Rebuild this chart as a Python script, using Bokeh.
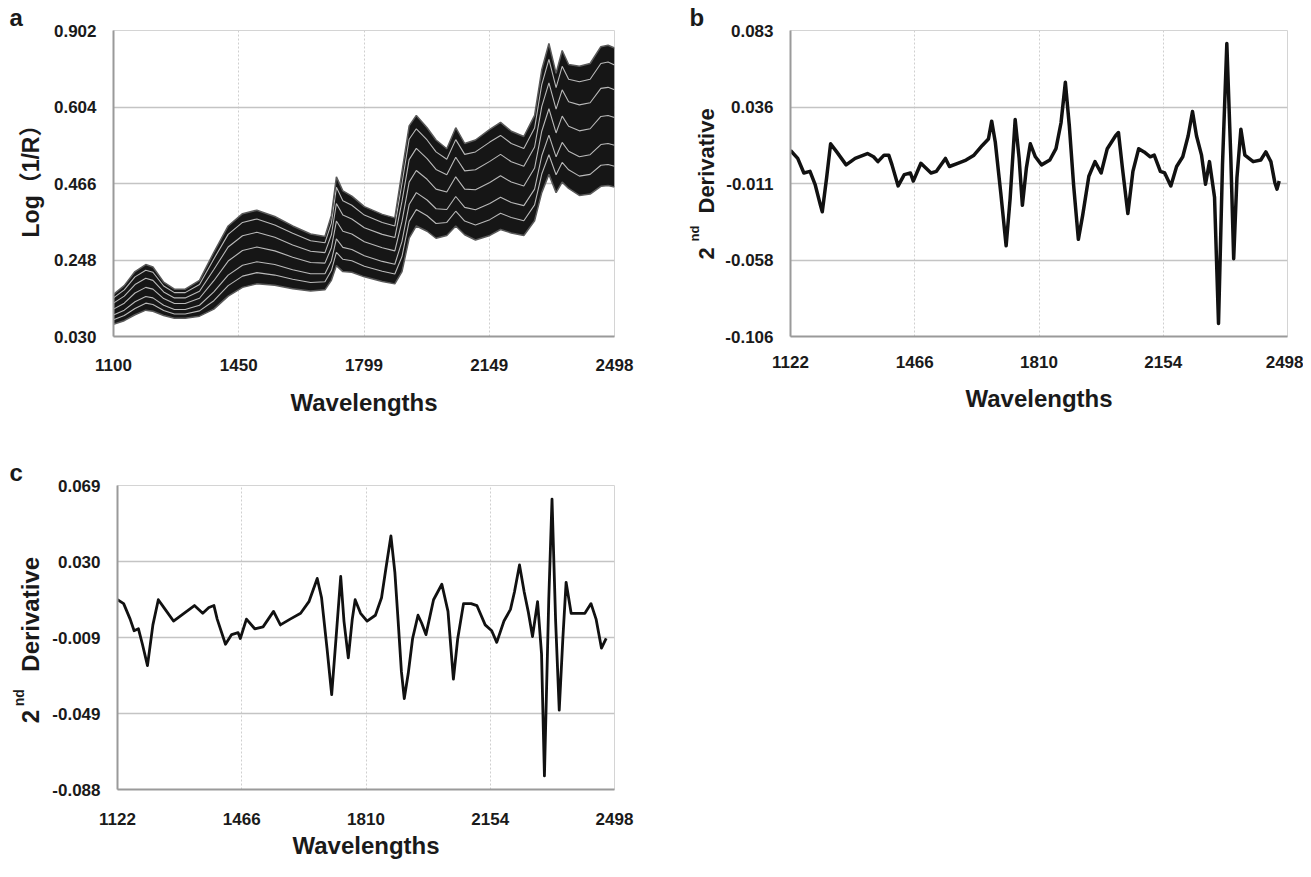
from bokeh.plotting import figure
from bokeh.layouts import column, row
from bokeh.models import Range1d, FixedTicker, Label
from bokeh.embed import file_html
from bokeh.resources import INLINE

# ---------------- data ----------------
# panel a : raw spectra envelope and a few visible inner spectra
a_wl = [1100, 1130, 1160, 1190, 1210, 1240, 1270, 1300, 1340, 1380, 1420, 1460, 1500, 1550,
        1600, 1650, 1690, 1708, 1722, 1740, 1765, 1800, 1850, 1885, 1905, 1925, 1945, 1975,
        2000, 2030, 2055, 2080, 2110, 2150, 2180, 2210, 2245, 2275, 2295, 2315, 2335, 2352,
        2370, 2400, 2430, 2460, 2480, 2498]
a_upper = [0.150, 0.175, 0.215, 0.235, 0.228, 0.185, 0.165, 0.165, 0.190, 0.270, 0.345, 0.380,
           0.390, 0.372, 0.345, 0.322, 0.315, 0.375, 0.485, 0.445, 0.430, 0.400, 0.378, 0.368,
           0.500, 0.630, 0.660, 0.625, 0.590, 0.565, 0.625, 0.580, 0.590, 0.620, 0.640, 0.615,
           0.600, 0.660, 0.790, 0.865, 0.780, 0.845, 0.805, 0.800, 0.808, 0.856, 0.860, 0.852]
a_lower = [0.065, 0.075, 0.092, 0.105, 0.102, 0.090, 0.082, 0.082, 0.088, 0.108, 0.145, 0.170,
           0.180, 0.176, 0.166, 0.160, 0.163, 0.190, 0.232, 0.215, 0.213, 0.200, 0.187, 0.180,
           0.215, 0.310, 0.345, 0.330, 0.310, 0.318, 0.345, 0.320, 0.305, 0.318, 0.335, 0.325,
           0.318, 0.360, 0.440, 0.492, 0.440, 0.470, 0.452, 0.432, 0.436, 0.458, 0.460, 0.456]
a_inner0 = [0.078, 0.090, 0.110, 0.125, 0.121, 0.104, 0.094, 0.094, 0.103, 0.132, 0.175, 0.202,
            0.212, 0.205, 0.193, 0.184, 0.186, 0.218, 0.270, 0.250, 0.246, 0.230, 0.216, 0.208,
            0.258, 0.358, 0.392, 0.374, 0.352, 0.355, 0.387, 0.359, 0.348, 0.363, 0.381, 0.369,
            0.360, 0.405, 0.493, 0.548, 0.491, 0.526, 0.505, 0.487, 0.492, 0.518, 0.520, 0.515]
a_inner1 = [0.091, 0.105, 0.129, 0.144, 0.140, 0.119, 0.107, 0.107, 0.119, 0.157, 0.205, 0.233,
            0.243, 0.235, 0.220, 0.209, 0.209, 0.246, 0.308, 0.284, 0.278, 0.260, 0.244, 0.236,
            0.301, 0.406, 0.440, 0.419, 0.394, 0.392, 0.429, 0.398, 0.391, 0.409, 0.427, 0.412,
            0.403, 0.450, 0.545, 0.604, 0.542, 0.583, 0.558, 0.542, 0.548, 0.577, 0.580, 0.575]
a_inner2 = [0.108, 0.125, 0.154, 0.170, 0.165, 0.138, 0.124, 0.124, 0.139, 0.189, 0.245, 0.275,
            0.285, 0.274, 0.256, 0.241, 0.239, 0.283, 0.359, 0.330, 0.322, 0.300, 0.283, 0.274,
            0.358, 0.470, 0.503, 0.478, 0.450, 0.442, 0.485, 0.450, 0.448, 0.469, 0.488, 0.470,
            0.459, 0.510, 0.615, 0.679, 0.610, 0.658, 0.629, 0.616, 0.622, 0.657, 0.660, 0.654]
a_inner3 = [0.125, 0.145, 0.178, 0.196, 0.190, 0.157, 0.140, 0.140, 0.159, 0.221, 0.285, 0.317,
            0.327, 0.313, 0.291, 0.273, 0.269, 0.320, 0.409, 0.376, 0.365, 0.340, 0.321, 0.312,
            0.415, 0.534, 0.566, 0.537, 0.506, 0.491, 0.541, 0.502, 0.505, 0.529, 0.549, 0.528,
            0.515, 0.570, 0.685, 0.753, 0.678, 0.733, 0.699, 0.690, 0.696, 0.737, 0.740, 0.733]
a_inner4 = [0.140, 0.163, 0.200, 0.219, 0.213, 0.174, 0.155, 0.155, 0.178, 0.251, 0.321, 0.355,
            0.365, 0.348, 0.324, 0.303, 0.297, 0.353, 0.455, 0.417, 0.404, 0.376, 0.355, 0.345,
            0.466, 0.592, 0.622, 0.590, 0.556, 0.535, 0.591, 0.549, 0.556, 0.584, 0.603, 0.580,
            0.566, 0.624, 0.748, 0.820, 0.739, 0.800, 0.763, 0.756, 0.763, 0.808, 0.812, 0.804]
a_xticks = [1100, 1449.5, 1799, 2148.5, 2498]
a_xlabels = ["1100", "1450", "1799", "2149", "2498"]
a_yticks = [0.030, 0.248, 0.466, 0.684, 0.902]
a_ylabels = ["0.030", "0.248", "0.466", "0.604", "0.902"]

# panel b : 2nd derivative
b_wl = [1122, 1142, 1159, 1176, 1190, 1205, 1210, 1222, 1233, 1250, 1276, 1301, 1335, 1352,
        1364, 1381, 1394, 1403, 1420, 1437, 1454, 1462, 1483, 1511, 1526, 1551, 1562, 1585,
        1608, 1630, 1653, 1670, 1679, 1689, 1704, 1719, 1730, 1744, 1755, 1764, 1775, 1786,
        1800, 1817, 1840, 1857, 1871, 1883, 1894, 1906, 1919, 1931, 1948, 1965, 1982, 1999,
        2022, 2030, 2041, 2056, 2070, 2086, 2101, 2118, 2129, 2146, 2158, 2175, 2191, 2208,
        2223, 2235, 2246, 2260, 2271, 2282, 2296, 2307, 2318, 2330, 2341, 2349, 2358, 2369,
        2380, 2403, 2424, 2438, 2452, 2463, 2469, 2475]
b_val = [0.009, 0.004, -0.005, -0.004, -0.012, -0.025, -0.029, -0.008, 0.013, 0.008, 0.000,
         0.004, 0.007, 0.005, 0.002, 0.006, 0.006, 0.000, -0.013, -0.006, -0.005, -0.010,
         0.001, -0.005, -0.004, 0.004, -0.001, 0.001, 0.003, 0.006, 0.012, 0.016, 0.027,
         0.014, -0.017, -0.050, -0.021, 0.028, 0.004, -0.025, -0.002, 0.013, 0.005, 0.000,
         0.003, 0.010, 0.026, 0.051, 0.024, -0.013, -0.046, -0.031, -0.007, 0.002, -0.005,
         0.010, 0.018, 0.020, -0.002, -0.030, -0.004, 0.010, 0.008, 0.005, 0.006, -0.004,
         -0.005, -0.013, -0.001, 0.005, 0.018, 0.033, 0.018, 0.006, -0.012, 0.002, -0.020,
         -0.098, 0.000, 0.075, 0.005, -0.058, -0.008, 0.022, 0.006, 0.002, 0.003, 0.008,
         0.002, -0.011, -0.015, -0.010]
b_xticks = [1122, 1466, 1810, 2154, 2498]
b_xlabels = ["1122", "1466", "1810", "2154", "2498"]
b_yticks = [-0.106, -0.05875, -0.0115, 0.03575, 0.083]
b_ylabels = ["-0.106", "-0.058", "-0.011", "0.036", "0.083"]

# panel c : 2nd derivative
c_wl = [1122, 1139, 1157, 1168, 1180, 1191, 1205, 1220, 1235, 1254, 1277, 1306, 1335, 1358,
        1375, 1389, 1398, 1421, 1438, 1456, 1462, 1479, 1502, 1525, 1554, 1573, 1600, 1629,
        1652, 1675, 1687, 1702, 1715, 1727, 1740, 1749, 1761, 1772, 1780, 1795, 1813, 1836,
        1853, 1865, 1879, 1890, 1899, 1908, 1916, 1927, 1939, 1954, 1964, 1976, 1997, 2020,
        2037, 2052, 2064, 2080, 2101, 2117, 2140, 2158, 2172, 2192, 2210, 2221, 2235, 2248,
        2259, 2271, 2285, 2296, 2304, 2316, 2325, 2335, 2345, 2355, 2364, 2378, 2399, 2416,
        2433, 2447, 2462, 2475]
c_val = [0.010, 0.008, 0.000, -0.006, -0.005, -0.013, -0.024, -0.003, 0.010, 0.005, -0.001,
         0.003, 0.007, 0.003, 0.006, 0.007, 0.000, -0.013, -0.008, -0.007, -0.010, 0.000,
         -0.005, -0.004, 0.004, -0.003, 0.000, 0.003, 0.009, 0.021, 0.011, -0.015, -0.039,
         -0.010, 0.022, -0.001, -0.020, 0.000, 0.010, 0.003, -0.001, 0.002, 0.011, 0.026,
         0.043, 0.024, -0.001, -0.027, -0.041, -0.028, -0.010, 0.002, -0.002, -0.008, 0.010,
         0.018, 0.004, -0.031, -0.010, 0.008, 0.008, 0.007, -0.003, -0.006, -0.012, -0.001,
         0.005, 0.014, 0.028, 0.014, 0.004, -0.009, 0.009, -0.018, -0.081, 0.010, 0.062,
         -0.001, -0.047, -0.010, 0.019, 0.003, 0.003, 0.003, 0.008, 0.000, -0.015, -0.010]
c_xticks = [1122, 1466, 1810, 2154, 2498]
c_xlabels = ["1122", "1466", "1810", "2154", "2498"]
c_yticks = [-0.088, -0.04875, -0.0095, 0.02975, 0.069]
c_ylabels = ["-0.088", "-0.049", "-0.009", "0.030", "0.069"]

x_title = "Wavelengths"

FONT = "Liberation Sans, Arial, Noto Sans CJK SC, sans-serif"
TXT = "#1a1a1a"


def make_panel(width, height, mb, xr, yr, xt, xl, yt, yl, xstand, tstand):
    p = figure(width=width, height=height, output_backend="svg", toolbar_location=None,
               x_range=Range1d(*xr), y_range=Range1d(*yr),
               min_border_left=mb[0], min_border_right=mb[1],
               min_border_top=mb[2], min_border_bottom=mb[3])
    p.background_fill_color = "white"
    p.border_fill_color = "white"
    p.outline_line_color = "#d4d4d4"
    p.outline_line_width = 1
    p.xaxis.ticker = FixedTicker(ticks=xt)
    p.yaxis.ticker = FixedTicker(ticks=yt)
    p.xaxis.major_label_overrides = dict(zip(xt, xl))
    p.yaxis.major_label_overrides = dict(zip(yt, yl))
    for ax in (p.xaxis, p.yaxis):
        ax.axis_line_color = "#9a9a9a"
        ax.axis_line_width = 2
        ax.major_tick_line_color = None
        ax.minor_tick_line_color = None
        ax.major_label_text_font = FONT
        ax.major_label_text_font_size = "17px"
        ax.major_label_text_font_style = "bold"
        ax.major_label_text_color = TXT
    p.xaxis.major_label_standoff = xstand
    p.yaxis.major_label_standoff = 11
    p.xaxis.axis_label = x_title
    p.xaxis.axis_label_text_font = FONT
    p.xaxis.axis_label_text_font_size = "24px"
    p.xaxis.axis_label_text_font_style = "bold"
    p.xaxis.axis_label_text_color = TXT
    p.xaxis.axis_label_standoff = tstand
    p.ygrid.grid_line_color = "#c4c4c4"
    p.ygrid.grid_line_width = 1.5
    p.xgrid.grid_line_color = "#cfcfcf"
    p.xgrid.grid_line_width = 1
    p.xgrid.grid_line_dash = "2 2"
    return p


def label_fig(x0, w, h, top, bottom, y_top, y_bottom, letter, loff):
    # a blank strip whose frame is aligned with its neighbour's frame;
    # data coordinates equal page pixels; the panel letter is its title
    f = figure(width=w, height=h, x_range=Range1d(x0, x0 + w),
               y_range=Range1d(y_bottom, y_top),
               x_axis_type=None, y_axis_type=None,
               min_border_left=0, min_border_right=0,
               min_border_top=top, min_border_bottom=bottom,
               toolbar_location=None, output_backend="svg")
    f.title.text = letter
    f.title.align = "left"
    f.title.offset = loff
    f.title.standoff = 0
    f.title.text_font = FONT
    f.title.text_font_size = "24px"
    f.title.text_font_style = "bold"
    f.title.text_color = TXT
    f.outline_line_color = None
    f.background_fill_color = "white"
    f.border_fill_color = "white"
    f.xgrid.visible = False
    f.ygrid.visible = False
    return f


def add_text(f, x, y, text, size, align="left"):
    f.add_layout(Label(x=x, y=y, text=text, angle=1.5707963, text_font=FONT,
                       text_font_size=size, text_font_style="bold", text_color=TXT,
                       text_align=align, text_baseline="alphabetic"))


# ---- row 1 : frames at page y 38 .. 344 ----
la = label_fig(8, 50, 456, 30, 120, 38, 344, "a", 9)
add_text(la, 38, 183, "Log（1/R）", "23px", align="center")

pa = make_panel(594, 456, (59, 30, 30, 120), (1100, 2498), (0.030, 0.902),
                a_xticks, a_xlabels, a_yticks, a_ylabels, 16, 15)
pa.varea(x=a_wl, y1=a_lower, y2=a_upper, fill_color="#161616")
for arr in (a_inner0, a_inner1, a_inner2, a_inner3, a_inner4):
    pa.line(a_wl, arr, line_color="white", line_width=1.1, line_alpha=0.7)
pa.line(a_wl, a_upper, line_color="#5a5a5a", line_width=1.5)
pa.line(a_wl, a_lower, line_color="#5a5a5a", line_width=1.5)

lb = label_fig(652, 78, 456, 30, 120, 38, 344, "b", 45)
add_text(lb, 714, 267, "2", "22px")
add_text(lb, 702, 249, "nd", "13px")
add_text(lb, 714, 221, "Derivative", "22px")

pb = make_panel(581, 456, (60, 16, 30, 120), (1122, 2498), (-0.106, 0.083),
                b_xticks, b_xlabels, b_yticks, b_ylabels, 13, 14)
pb.line(b_wl, b_val, line_color="#111111", line_width=3.5, line_join="round")

# ---- row 2 : frame at page y 493 .. 800 ----
lc = label_fig(8, 49, 405, 29, 69, 493, 800, "c", 9)
add_text(lc, 38, 733, "2", "24px")
add_text(lc, 26, 716, "nd", "14px")
add_text(lc, 38, 681, "Derivative", "24px")

pc = make_panel(595, 405, (60, 30, 29, 69), (1122, 2498), (-0.088, 0.069),
                c_xticks, c_xlabels, c_yticks, c_ylabels, 17, 4)
pc.line(c_wl, c_val, line_color="#111111", line_width=2.8, line_join="round")

layout = column(row(la, pa, lb, pb), row(lc, pc))
open("out.html", "w").write(file_html(layout, INLINE))
